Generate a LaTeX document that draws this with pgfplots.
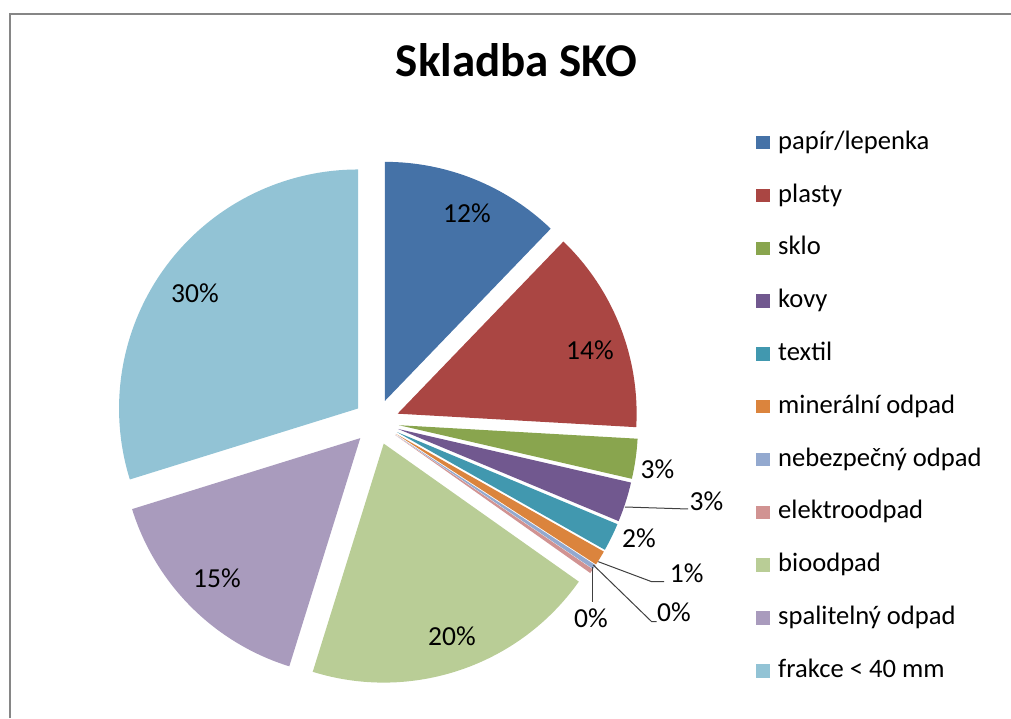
\documentclass[border=0pt]{standalone}
\usepackage{pgfplots}
\usepackage{pgfplotstable}
\pgfplotsset{compat=1.18}
\usepackage{fontspec}
\setmainfont{Carlito}

\definecolor{c0}{HTML}{4572A7}
\definecolor{c1}{HTML}{AA4643}
\definecolor{c2}{HTML}{89A54E}
\definecolor{c3}{HTML}{71588F}
\definecolor{c4}{HTML}{4198AF}
\definecolor{c5}{HTML}{DB843D}
\definecolor{c6}{HTML}{93A9CF}
\definecolor{c7}{HTML}{D19392}
\definecolor{c8}{HTML}{B9CD96}
\definecolor{c9}{HTML}{A99BBD}
\definecolor{c10}{HTML}{92C3D5}
\definecolor{frame}{HTML}{868686}
\definecolor{leader}{HTML}{404040}

% share of each component of SKO (percent)
\pgfplotstableread{
id value
0 12.2
1 13.7
2 2.7
3 2.7
4 1.9
5 1.0
6 0.3
7 0.3
8 20.0
9 15.4
10 29.8
}\piedata

% cumulative angles (clockwise from 12 o'clock)
\def\cum{0}
\pgfplotsforeachungrouped \i in {0,...,10}{%
  \pgfplotstablegetelem{\i}{value}\of\piedata
  \let\val\pgfplotsretval
  \pgfmathsetmacro{\angA}{90-3.6*\cum}%
  \pgfmathsetmacro{\newcum}{\cum+\val}%
  \pgfmathsetmacro{\angB}{90-3.6*\newcum}%
  \pgfmathsetmacro{\angM}{(\angA+\angB)/2}%
  \expandafter\xdef\csname sa\i\endcsname{\angA}%
  \expandafter\xdef\csname sb\i\endcsname{\angB}%
  \expandafter\xdef\csname sm\i\endcsname{\angM}%
  \xdef\cum{\newcum}%
}

\newcommand\legentry[2]{%
  \fill[c#1] (axis cs:756,{718-149.5-52.8*#1}) rectangle (axis cs:770,{718-136-52.8*#1});
  \node[anchor=base west, inner sep=0pt, font=\fontsize{26.6}{30}\selectfont, text=black]
    at (axis cs:778,{718-149.3-52.8*#1}) {#2};
}
\newcommand\pielabel[3]{%
  \node[anchor=center, inner sep=0pt, font=\fontsize{27.5}{31}\selectfont, text=black]
    at (axis cs:#1,{718-#2}) {#3};
}

\begin{document}
\begin{tikzpicture}
\begin{axis}[
  at={(0,0)}, anchor=origin,
  x=1pt, y=1pt,
  xmin=0, xmax=1011, ymin=0, ymax=718,
  hide axis, clip=false,
]
% frame
\draw[frame, line width=2pt] (axis cs:10.3,0) -- (axis cs:10.3,703.7) -- (axis cs:1011,703.7);
% title
\node[anchor=base, inner sep=0pt, font=\bfseries\fontsize{47}{54}\selectfont]
  at (axis cs:516.5,{718-77}) {Skladba SKO};
% exploded wedges
\pgfplotsinvokeforeach{0,...,10}{
  \fill[c#1] (axis cs:376.4,296) ++(\csname sm#1\endcsname:22.8pt)
    -- ++(\csname sa#1\endcsname:239pt)
    arc[start angle=\csname sa#1\endcsname, end angle=\csname sb#1\endcsname, radius=239pt]
    -- cycle;
}
% leader lines
\draw[leader, line width=1pt] (axis cs:625,{718-507}) -- (axis cs:688,{718-509});
\draw[leader, line width=1pt] (axis cs:598.3,{718-561.7}) -- (axis cs:651.7,{718-581.7}) -- (axis cs:664,{718-581.7});
\draw[leader, line width=1pt] (axis cs:593.3,{718-565}) -- (axis cs:651.7,{718-621.7}) -- (axis cs:656.7,{718-621.7});
\draw[leader, line width=1pt] (axis cs:592,{718-567}) -- (axis cs:592,{718-602});
% data labels
\pielabel{467}{213}{12\%}
\pielabel{590}{350}{14\%}
\pielabel{657.5}{469}{3\%}
\pielabel{706.5}{501.5}{3\%}
\pielabel{639}{538.5}{2\%}
\pielabel{686.7}{573.5}{1\%}
\pielabel{674}{612.5}{0\%}
\pielabel{591}{618.5}{0\%}
\pielabel{452}{636}{20\%}
\pielabel{217}{578}{15\%}
\pielabel{195}{293}{30\%}
% legend
\legentry{0}{papír/lepenka}
\legentry{1}{plasty}
\legentry{2}{sklo}
\legentry{3}{kovy}
\legentry{4}{textil}
\legentry{5}{minerální odpad}
\legentry{6}{nebezpečný odpad}
\legentry{7}{elektroodpad}
\legentry{8}{bioodpad}
\legentry{9}{spalitelný odpad}
\legentry{10}{frakce < 40 mm}
\end{axis}
\pgfresetboundingbox
\path[use as bounding box] (0,0) rectangle (1011pt,718pt);
\end{tikzpicture}
\end{document}
